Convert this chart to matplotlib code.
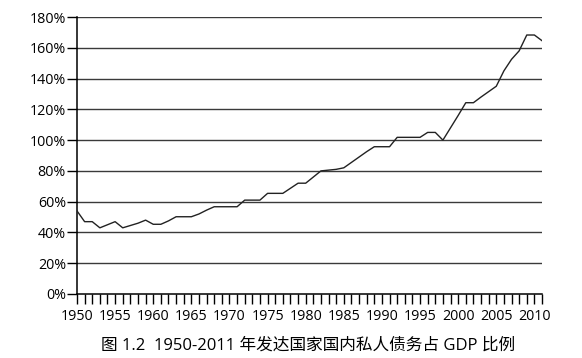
import numpy as np
import matplotlib
matplotlib.use('Agg')
import matplotlib.pyplot as plt
from matplotlib.ticker import MultipleLocator, FuncFormatter

plt.rcParams['font.family'] = ['Open Sans', 'Noto Sans CJK SC', 'DejaVu Sans']

# private domestic debt as % of GDP, developed countries
years = list(range(1950, 2012))
debt_pct = [
    54, 47, 47, 43, 45, 47, 43, 44.5, 46, 48,
    45.3, 45.3, 47.5, 50.2, 50.2, 50.2, 52, 54.5, 56.7, 56.7,
    56.7, 56.7, 61, 61, 61, 65.4, 65.4, 65.4, 68.7, 72,
    72, 76, 80, 80.5, 81, 82, 85.5, 89, 92.5, 95.7,
    95.7, 95.7, 101.8, 101.8, 101.8, 101.8, 105, 105, 100, 108,
    116, 124.3, 124.3, 128, 131.5, 135, 145, 152.5, 158, 168.3,
    168.3, 164.6,
]
title = '图 1.2  1950-2011 年发达国家国内私人债务占 GDP 比例'

fig = plt.figure(figsize=(5.82, 3.58), dpi=100)
ax = fig.add_axes([0.1323, 0.1788, 0.7990, 0.7737])

for v in range(20, 181, 20):
    ax.axhline(v, color='#3a3a3a', lw=1.0, zorder=1)

ax.plot(years, debt_pct, color='#222222', lw=1.0, zorder=3)

ax.set_xlim(1950, 2011)
ax.set_ylim(0, 180)

ax.spines['top'].set_visible(False)
ax.spines['right'].set_visible(False)
ax.spines['left'].set_linewidth(1.1)
ax.spines['bottom'].set_linewidth(1.1)

ax.yaxis.set_major_locator(MultipleLocator(20))
ax.yaxis.set_major_formatter(FuncFormatter(lambda v, p: f'{int(v)}%'))
ax.xaxis.set_major_locator(MultipleLocator(5))
ax.xaxis.set_minor_locator(MultipleLocator(1))

ax.tick_params(axis='y', length=7, width=1, pad=1, labelsize=10.3, colors='black')
ax.tick_params(axis='x', which='both', length=7, width=1, pad=4, labelsize=10.3)

fig.text(0.530, 0.035, title, ha='center', va='center', fontsize=12)

fig.savefig('out.png', dpi=100)
